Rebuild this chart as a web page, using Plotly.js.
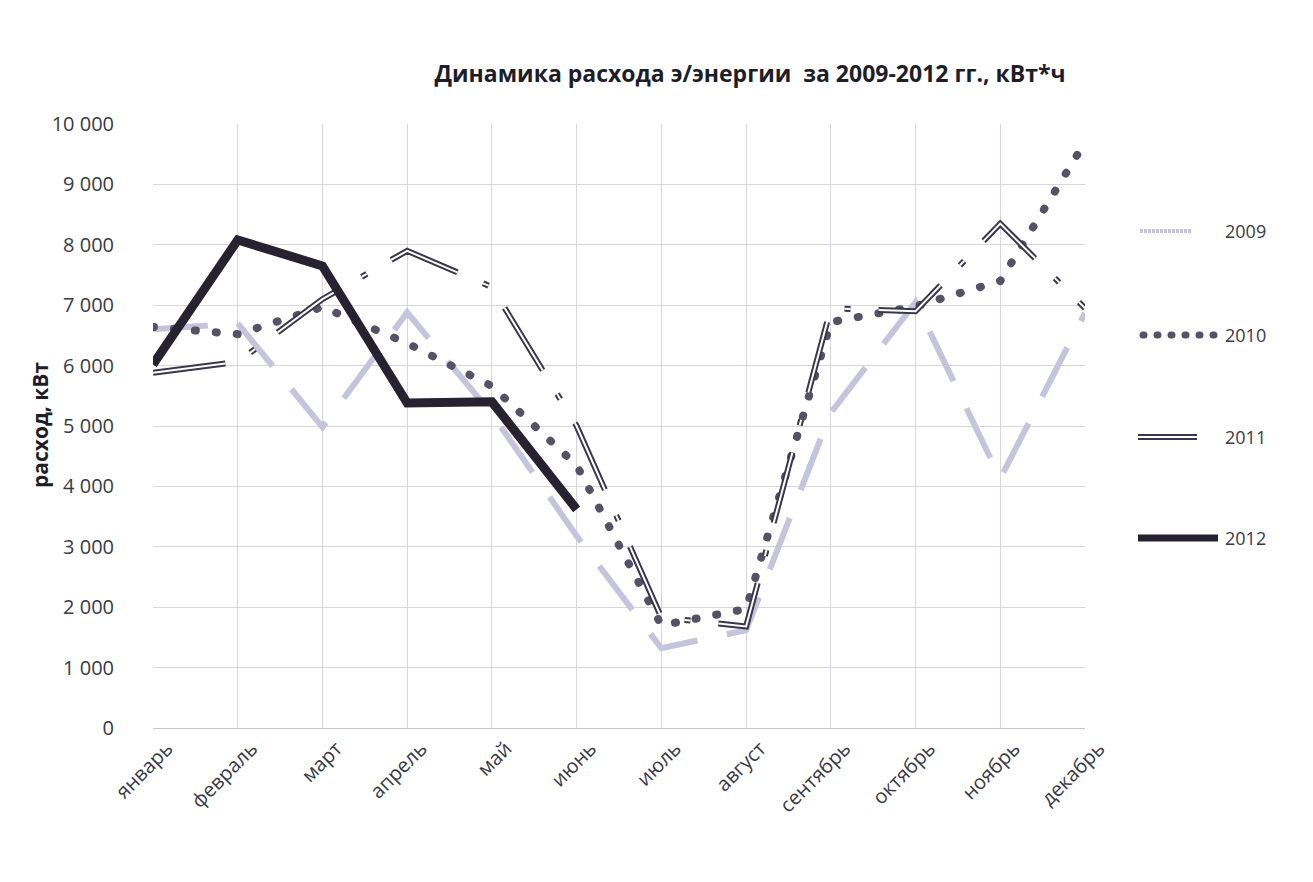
<!DOCTYPE html>
<html>
<head>
<meta charset="utf-8">
<script src="https://cdn.plot.ly/plotly-3.0.1.min.js"></script>
<style>
  html, body { margin: 0; padding: 0; background: #ffffff; }
  #chart { width: 1313px; height: 882px; }
</style>
</head>
<body>
<div id="chart"></div>
<script>
// ---- data ----
const months = ['январь','февраль','март','апрель','май','июнь','июль','август','сентябрь','октябрь','ноябрь','декабрь'];
const years = ['2009','2010','2011','2012'];
const y2009 = [6600, 6700, 4980, 6880, 5200, 3180, 1320, 1620, 5220, 7050, 4130, 6870];
const y2010 = [6640, 6520, 6970, 6370, 5660, 4350, 1700, 1970, 6720, 6980, 7400, 9700];
const y2011 = [5880, 6060, 7100, 7900, 7300, 5000, 1830, 1680, 6950, 6900, 8350, 6950];
const y2012 = [6020, 8080, 7650, 5380, 5400, 3620];
const yTicks = [0, 1000, 2000, 3000, 4000, 5000, 6000, 7000, 8000, 9000, 10000];
const chartTitle = 'Динамика расхода э/энергии  за 2009-2012 гг., кВт*ч';
const yTitle = 'расход, кВт';

// ---- styles ----
const c2009 = 'rgb(196,196,220)';
const c2010 = 'rgb(84,82,100)';
const c2011 = 'rgb(58,55,76)';
const c2012 = 'rgb(38,34,48)';
const dash2009 = '55px,30px';
const dash2010 = '1px,20px';
const dash2011 = '73px,28px,6px,28px';

const traces = [
  {x: months, y: y2009, name: years[0], mode: 'lines', line: {color: c2009, width: 6, dash: dash2009}, showlegend: false},
  {x: months, y: y2010, name: years[1], mode: 'lines', line: {color: c2010, width: 8, dash: dash2010}, showlegend: false},
  {x: months, y: y2011, name: years[2], mode: 'lines', line: {color: c2011, width: 6, dash: dash2011}, showlegend: false},
  {x: months, y: y2011, name: years[2], mode: 'lines', line: {color: '#ffffff', width: 2, dash: dash2011}, showlegend: false, hoverinfo: 'skip'},
  {x: months.slice(0, y2012.length), y: y2012, name: years[3], mode: 'lines', line: {color: c2012, width: 9}, showlegend: false}
];

// legend drawn in paper coordinates (outside the plot area, right side)
const L = 153, R = 228, T = 124, B = 154;
const PW = 1313 - L - R, PH = 882 - T - B;
const px = v => (v - L) / PW;
const py = v => (882 - B - v) / PH;

const legendItems = [
  {y: 231, x0: 1140, x1: 1192, lines: [{color: c2009, width: 4, dash: '3px,1px'}]},
  {y: 335, x0: 1143, x1: 1216, lines: [{color: c2010, width: 7, dash: '1px,13px'}]},
  {y: 437, x0: 1138, x1: 1197, lines: [{color: c2011, width: 6, dash: 'solid'}, {color: '#ffffff', width: 2, dash: 'solid'}]},
  {y: 538, x0: 1138, x1: 1218, lines: [{color: c2012, width: 7, dash: 'solid'}]}
];
const shapes = [];
const annotations = [];
legendItems.forEach((it, i) => {
  it.lines.forEach(ln => {
    shapes.push({type: 'line', xref: 'paper', yref: 'paper', x0: px(it.x0), x1: px(it.x1), y0: py(it.y), y1: py(it.y), line: ln});
  });
  annotations.push({xref: 'paper', yref: 'paper', x: px(1223), y: py(it.y), xanchor: 'left', yanchor: 'middle',
    text: years[i], showarrow: false, font: {family: 'Open Sans, sans-serif', size: 18, color: '#3a3a46'}});
});
annotations.push({xref: 'paper', yref: 'paper', x: px(40), y: py(425), xanchor: 'center', yanchor: 'middle',
  text: '<b>' + yTitle + '</b>', textangle: -90, showarrow: false,
  font: {family: 'Open Sans, sans-serif', size: 21, color: '#1e1e28'}});

const layout = {
  width: 1313, height: 882,
  paper_bgcolor: '#ffffff', plot_bgcolor: '#ffffff',
  margin: {l: L, r: R, t: T, b: B, pad: 0},
  separators: ', ',
  title: {text: '<b>' + chartTitle + '</b>', x: 750 / 1313, xanchor: 'center', xref: 'container',
    y: 1 - 74 / 882, yanchor: 'middle', yref: 'container',
    font: {family: 'Open Sans, sans-serif', size: 23, color: '#1e1e28'}},
  xaxis: {
    type: 'category', range: [0, 11], showgrid: true, gridcolor: '#d6d6de', gridwidth: 1,
    showline: true, linecolor: '#c4c4cc', linewidth: 1, zeroline: false,
    tickangle: -45, ticks: '', ticklabelstandoff: 0, ticklabelshift: 14,
    tickfont: {family: 'Open Sans, sans-serif', size: 20, color: '#3a3a46'}
  },
  yaxis: {
    range: [0, 10000], tickvals: yTicks, tickformat: ',d',
    showgrid: true, gridcolor: '#d6d6de', gridwidth: 1, zeroline: false, showline: false,
    ticks: '', ticklabelstandoff: 38,
    tickfont: {family: 'Open Sans, sans-serif', size: 20, color: '#3a3a46'}
  },
  shapes: shapes,
  annotations: annotations,
  showlegend: false
};

Plotly.newPlot('chart', traces, layout, {displayModeBar: false, staticPlot: true}).then(gd => {
  // round dots for the 2010 series and its legend sample
  const tr = gd.querySelectorAll('.scatterlayer .trace');
  if (tr[1]) tr[1].querySelectorAll('path.js-line').forEach(p => p.style.strokeLinecap = 'round');
  const sp = gd.querySelectorAll('.shapelayer path');
  sp.forEach(p => {
    const idx = p.getAttribute('data-index');
    if (idx === '1') p.style.strokeLinecap = 'round';
  });
});
</script>
</body>
</html>
